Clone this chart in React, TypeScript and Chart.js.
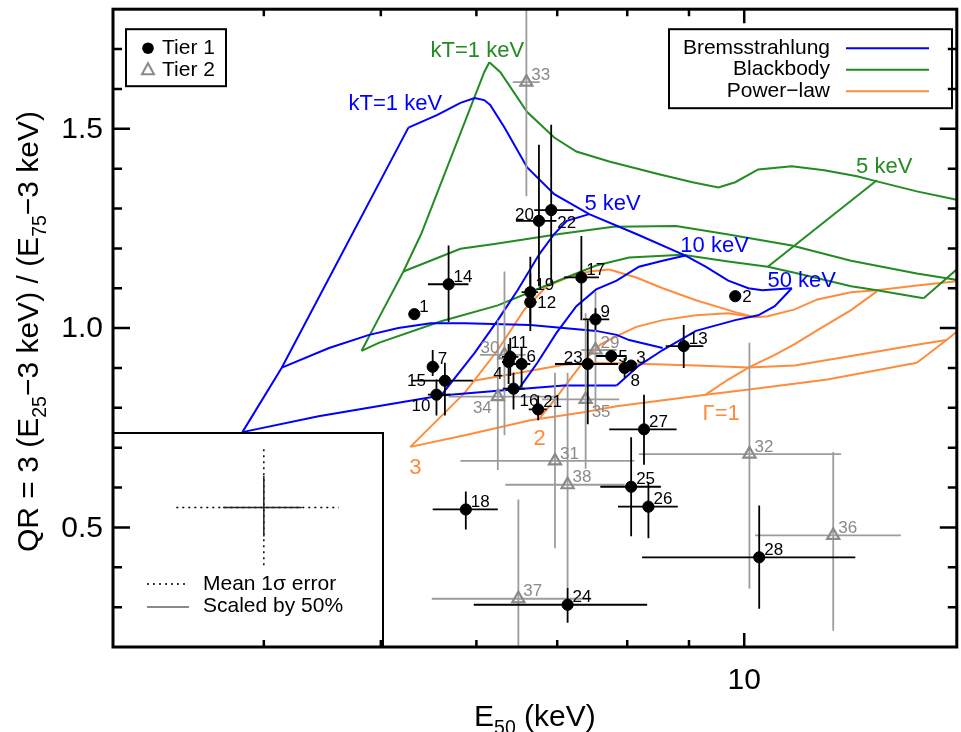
import React, { useEffect, useRef } from 'react';
import { Chart, registerables } from 'chart.js';

Chart.register(...registerables);

// ---------------- axes ----------------
const xRange = [3, 15];
const yRange = [0.2, 1.8];
const xMajorTicks = [10];
const xMinorTicks = [4, 5, 6, 7, 8, 9];
const xTickLabels = ['10'];
const yMajorTicks = [0.5, 1.0, 1.5];
const yMinorTicks = [0.3, 0.4, 0.6, 0.7, 0.8, 0.9, 1.1, 1.2, 1.3, 1.4, 1.6, 1.7];
const yTickLabels = ['0.5', '1.0', '1.5'];

// ---------------- model grids [E50, QR] ----------------
const bremNHlow = [[3.84, 0.739], [4.44, 0.779], [5.17, 0.813], [5.61, 0.831], [6.25, 0.843], [7.09, 0.856], [7.84, 0.856]];
const bremNHmid = [[4.14, 0.901], [4.53, 0.95], [4.89, 0.983], [5.17, 1.0], [5.5, 1.012], [5.87, 1.012], [6.65, 1.008], [7.54, 0.993], [7.84, 0.983], [8.03, 0.97], [8.56, 0.95]];
const bremNHhigh = [[5.27, 1.503], [5.57, 1.535], [5.82, 1.565], [5.98, 1.577], [6.09, 1.572], [6.16, 1.56], [6.33, 1.503], [6.61, 1.403], [6.96, 1.336], [7.44, 1.286], [8.14, 1.236], [8.94, 1.182], [9.29, 1.154], [9.7, 1.119], [10.08, 1.1], [10.35, 1.095], [10.95, 1.1]];
const bremKT1 = [[3.84, 0.739], [4.14, 0.901], [5.27, 1.503]];
const bremKT5 = [[5.61, 0.831], [5.98, 0.938], [6.25, 1.02], [6.49, 1.095], [6.77, 1.187], [6.96, 1.236], [7.13, 1.269], [7.44, 1.286]];
const bremKT10 = [[6.49, 0.843], [6.74, 0.913], [6.99, 0.988], [7.26, 1.055], [7.54, 1.097], [7.84, 1.119], [8.18, 1.154], [8.56, 1.169], [8.94, 1.182]];
const bremKT50 = [[7.84, 0.856], [8.18, 0.906], [8.56, 0.945], [9.12, 0.993], [9.83, 1.02], [10.27, 1.032], [10.6, 1.055], [10.95, 1.1]];

const bbKT1 = [[4.82, 0.943], [4.98, 1.025], [5.22, 1.142], [5.4, 1.236], [6.09, 1.642], [6.15, 1.667]];
const bbNHhigh = [[6.15, 1.667], [6.28, 1.642], [6.61, 1.542], [6.96, 1.478], [7.26, 1.443], [7.73, 1.418], [8.5, 1.386], [9.06, 1.366], [9.52, 1.353], [9.83, 1.366], [10.27, 1.398], [10.95, 1.406], [11.65, 1.396], [12.4, 1.381], [12.88, 1.368], [13.9, 1.343], [14.93, 1.323], [15.3, 1.316]];
const bbNHmid = [[5.22, 1.142], [5.82, 1.199], [6.21, 1.211], [7.03, 1.236], [7.79, 1.254], [8.78, 1.256], [9.65, 1.236], [10.95, 1.207], [12.26, 1.169], [13.9, 1.137], [14.93, 1.122], [15.3, 1.114]];
const bbNHlow = [[4.82, 0.943], [4.98, 0.963], [5.61, 1.017], [6.25, 1.057], [6.83, 1.105], [7.54, 1.157], [8.03, 1.177], [8.89, 1.184], [9.7, 1.167], [10.46, 1.154], [11.01, 1.139], [12.26, 1.105], [12.88, 1.095], [14.08, 1.075]];
const bbKT5 = [[10.46, 1.154], [12.88, 1.371]];
const bbKT10 = [[14.08, 1.075], [14.93, 1.142], [15.3, 1.172]];

const plNHlow = [[5.29, 0.702], [5.87, 0.731], [6.65, 0.769], [7.36, 0.789], [7.84, 0.804], [9.29, 0.833], [10.21, 0.848], [11.72, 0.871], [13.9, 0.913]];
const plNHmid = [[5.97, 0.868], [6.65, 0.893], [7.09, 0.908], [7.54, 0.913], [8.29, 0.91], [9.12, 0.906], [10.08, 0.901], [11.01, 0.906], [12.26, 0.93], [13.9, 0.958], [14.71, 0.97]];
const plNHhigh = [[7.73, 1.147], [8.14, 1.127], [8.56, 1.1], [9.12, 1.07], [9.83, 1.04], [10.21, 1.027], [10.46, 1.03], [11.01, 1.047], [11.5, 1.072], [12.26, 1.09], [12.88, 1.095], [13.9, 1.107], [14.93, 1.117], [15.3, 1.119]];
const plG3 = [[5.29, 0.702], [5.87, 0.838], [6.25, 0.945], [6.57, 1.045], [6.86, 1.105], [7.17, 1.129], [7.44, 1.142], [7.73, 1.147]];
const plG2 = [[6.77, 0.774], [6.99, 0.826], [7.19, 0.876], [7.4, 0.925], [7.61, 0.96], [7.84, 0.98], [8.14, 1.003], [8.56, 1.02], [9.12, 1.032], [9.7, 1.037], [10.21, 1.027]];
const plG1 = [[9.29, 0.833], [9.7, 0.871], [10.08, 0.901], [10.6, 0.933], [11.01, 0.96], [11.5, 0.995], [12.26, 1.045], [12.88, 1.092]];
const plG0 = [[13.9, 0.913], [14.71, 0.97], [15.3, 1.012]];

// curve annotations
const curveLabelText = ['kT=1 keV', '5 keV', '10 keV', '50 keV', 'kT=1 keV', '5 keV', 'Γ=1', '2', '3'];
const curveLabelModel = ['brem', 'brem', 'brem', 'brem', 'bb', 'bb', 'pl', 'pl', 'pl'];
const curveLabelE = [5.14, 7.78, 9.45, 11.16, 6.01, 13.06, 9.57, 6.77, 5.34];
const curveLabelQR = [1.567, 1.316, 1.211, 1.124, 1.699, 1.408, 0.789, 0.726, 0.654];

// ---------------- sources ----------------
const tier1Id = ['1', '2', '3', '4', '5', '6', '7', '8', '9', '10', '11', '12', '13', '14', '15', '16', '17', '18', '19', '20', '21', '22', '23', '24', '25', '26', '27', '28'];
const tier1E = [5.33, 9.83, 8.06, 6.38, 7.76, 6.54, 5.52, 7.96, 7.53, 5.56, 6.4, 6.65, 8.91, 5.69, 5.65, 6.44, 7.33, 5.88, 6.65, 6.76, 6.75, 6.92, 7.42, 7.14, 8.06, 8.33, 8.26, 10.29];
const tier1QR = [1.035, 1.08, 0.906, 0.915, 0.93, 0.91, 0.903, 0.9, 1.022, 0.833, 0.928, 1.065, 0.955, 1.11, 0.868, 0.848, 1.127, 0.545, 1.09, 1.269, 0.796, 1.296, 0.91, 0.306, 0.602, 0.552, 0.746, 0.425];
const tier1ELo = [5.33, 9.83, 8.0, 6.3, 7.54, 6.43, 5.47, 7.9, 7.35, 5.47, 6.3, 6.58, 8.61, 5.47, 5.3, 6.31, 7.09, 5.52, 6.54, 6.47, 6.63, 6.7, 6.97, 5.97, 7.6, 7.86, 7.73, 8.23];
const tier1EHi = [5.33, 9.83, 8.12, 6.45, 7.99, 6.65, 5.59, 8.02, 7.73, 5.71, 6.5, 6.73, 9.25, 5.91, 5.96, 6.58, 7.58, 6.25, 6.75, 6.99, 6.86, 7.22, 7.86, 8.31, 8.53, 8.81, 8.79, 12.36];
const tier1QRLo = [1.035, 1.08, 0.895, 0.86, 0.913, 0.851, 0.88, 0.876, 0.995, 0.781, 0.88, 0.993, 0.9, 1.015, 0.781, 0.796, 1.02, 0.495, 1.012, 1.105, 0.769, 1.112, 0.759, 0.261, 0.478, 0.473, 0.657, 0.296];
const tier1QRHi = [1.035, 1.08, 0.915, 0.96, 0.945, 0.95, 0.945, 0.925, 1.05, 0.871, 0.975, 1.137, 1.008, 1.207, 0.913, 0.888, 1.231, 0.59, 1.179, 1.46, 0.831, 1.51, 1.02, 0.348, 0.726, 0.614, 0.833, 0.555];
const tier1LabelPos = ['ur', 'r', 'ur', 'bl', 'r', 'ur', 'ur', 'br', 'ur', 'bl', 'u', 'r', 'ur', 'ur', 'l', 'br', 'ur', 'ur', 'ur', 'ul', 'ur', 'br', 'ul', 'ur', 'ur', 'ur', 'ur', 'ur'];

const tier2Id = ['29', '30', '31', '32', '33', '34', '35', '36', '37', '38'];
const tier2E = [7.53, 6.33, 6.97, 10.1, 6.6, 6.25, 7.39, 11.85, 6.5, 7.14];
const tier2QR = [0.945, 0.933, 0.667, 0.684, 1.617, 0.828, 0.821, 0.48, 0.321, 0.607];
const tier2ELo = [7.33, 6.04, 5.82, 8.18, 6.43, 5.69, 6.8, 10.21, 5.51, 6.34];
const tier2EHi = [7.84, 6.59, 8.11, 12.03, 6.77, 6.99, 7.88, 13.48, 7.47, 7.96];
const tier2QRLo = [0.796, 0.731, 0.448, 0.346, 1.331, 0.644, 0.647, 0.241, 0.15, 0.348];
const tier2QRHi = [1.092, 1.142, 0.888, 0.963, 1.85, 1.02, 1.037, 0.689, 0.57, 0.888];
const tier2LabelPos = ['ur', 'ul', 'ur', 'ur', 'ur', 'bl', 'br', 'ur', 'ur', 'ur'];

// mean error inset
const meanErrCenter = [4.0, 0.55];
const meanErrE = [3.385, 4.615];
const meanErrQR = [0.405, 0.697];
const scaledErrE = [3.7, 4.3];
const scaledErrQR = [0.477, 0.629];

// ---------------- styles ----------------
const FONT = '"Liberation Sans", Arial, Helvetica, sans-serif';
const BLUE = '#0000ff';
const GREEN = '#228b22';
const ORANGE = '#ff8c3c';
const GRAY = '#8a8a8a';
const GRAY_BAR = '#9c9c9c';
const modelColor: Record<string, string> = { brem: BLUE, bb: GREEN, pl: ORANGE };

const labelOffsets: Record<string, [number, number, CanvasTextAlign]> = {
  ur: [5, -8, 'left'],
  r: [7, 0, 'left'],
  u: [0, -14, 'left'],
  br: [6, 12, 'left'],
  ul: [-5, -7, 'right'],
  bl: [-6, 11, 'right'],
  l: [-19, 0, 'right'],
};

type Part = { t: string; sub?: boolean };
function richWidth(ctx: CanvasRenderingContext2D, parts: Part[], size: number) {
  let w = 0;
  for (const p of parts) {
    ctx.font = `${p.sub ? size * 0.65 : size}px ${FONT}`;
    w += ctx.measureText(p.t).width;
  }
  return w;
}
function drawRich(ctx: CanvasRenderingContext2D, parts: Part[], x: number, y: number, size: number) {
  let cx = x;
  ctx.textBaseline = 'alphabetic';
  ctx.textAlign = 'left';
  for (const p of parts) {
    ctx.font = `${p.sub ? size * 0.65 : size}px ${FONT}`;
    ctx.fillText(p.t, cx, p.sub ? y + size * 0.27 : y);
    cx += ctx.measureText(p.t).width;
  }
}

function drawErrors(chart: any, E: number[], Q: number[], ELo: number[], EHi: number[], QLo: number[], QHi: number[], color: string) {
  const { ctx, chartArea: a, scales } = chart;
  const xs = scales.x, ys = scales.y;
  ctx.save();
  ctx.beginPath();
  ctx.rect(a.left, a.top, a.right - a.left, a.bottom - a.top);
  ctx.clip();
  ctx.strokeStyle = color;
  ctx.lineWidth = 1.8;
  for (let i = 0; i < E.length; i++) {
    const px = xs.getPixelForValue(E[i]);
    const py = ys.getPixelForValue(Q[i]);
    ctx.beginPath();
    ctx.moveTo(xs.getPixelForValue(ELo[i]), py);
    ctx.lineTo(xs.getPixelForValue(EHi[i]), py);
    ctx.moveTo(px, ys.getPixelForValue(QLo[i]));
    ctx.lineTo(px, ys.getPixelForValue(QHi[i]));
    ctx.stroke();
  }
  ctx.restore();
}

function drawPointLabels(chart: any, ids: string[], E: number[], Q: number[], pos: string[], color: string) {
  const { ctx, scales } = chart;
  ctx.save();
  ctx.fillStyle = color;
  ctx.font = `17px ${FONT}`;
  ctx.textBaseline = 'middle';
  for (let i = 0; i < ids.length; i++) {
    const [dx, dy, al] = labelOffsets[pos[i]];
    ctx.textAlign = al;
    ctx.fillText(ids[i], scales.x.getPixelForValue(E[i]) + dx, scales.y.getPixelForValue(Q[i]) + dy + 1);
  }
  ctx.restore();
}

const overlay = {
  id: 'overlay',
  beforeDatasetDraw(chart: any, args: any) {
    const ds = chart.data.datasets[args.index];
    if (ds.label === 'Tier 2') drawErrors(chart, tier2E, tier2QR, tier2ELo, tier2EHi, tier2QRLo, tier2QRHi, GRAY_BAR);
    if (ds.label === 'Tier 1') drawErrors(chart, tier1E, tier1QR, tier1ELo, tier1EHi, tier1QRLo, tier1QRHi, '#000');
  },
  afterDatasetsDraw(chart: any) {
    const { ctx, chartArea: a, scales } = chart;
    const xs = scales.x, ys = scales.y;

    // point labels
    drawPointLabels(chart, tier2Id, tier2E, tier2QR, tier2LabelPos, GRAY);
    drawPointLabels(chart, tier1Id, tier1E, tier1QR, tier1LabelPos, '#000');

    // curve labels
    ctx.save();
    ctx.font = `22px ${FONT}`;
    ctx.textAlign = 'center';
    ctx.textBaseline = 'alphabetic';
    for (let i = 0; i < curveLabelText.length; i++) {
      ctx.fillStyle = modelColor[curveLabelModel[i]];
      ctx.fillText(curveLabelText[i], xs.getPixelForValue(curveLabelE[i]), ys.getPixelForValue(curveLabelQR[i]) + 8);
    }
    ctx.restore();

    // inset: mean error
    ctx.save();
    const ix0 = a.left, iy0 = a.bottom - 214, ix1 = a.left + 270;
    ctx.fillStyle = '#fff';
    ctx.fillRect(ix0, iy0, ix1 - ix0, a.bottom - iy0);
    ctx.strokeStyle = '#000';
    ctx.lineWidth = 2;
    ctx.strokeRect(ix0, iy0, ix1 - ix0, a.bottom - iy0);
    const cx = xs.getPixelForValue(meanErrCenter[0]);
    const cy = ys.getPixelForValue(meanErrCenter[1]);
    ctx.setLineDash([2, 4]);
    ctx.lineWidth = 1.5;
    ctx.beginPath();
    ctx.moveTo(xs.getPixelForValue(meanErrE[0]), cy);
    ctx.lineTo(xs.getPixelForValue(meanErrE[1]), cy);
    ctx.moveTo(cx, ys.getPixelForValue(meanErrQR[0]));
    ctx.lineTo(cx, ys.getPixelForValue(meanErrQR[1]));
    ctx.stroke();
    ctx.setLineDash([]);
    ctx.strokeStyle = '#222';
    ctx.lineWidth = 1.5;
    ctx.beginPath();
    ctx.moveTo(xs.getPixelForValue(scaledErrE[0]), cy);
    ctx.lineTo(xs.getPixelForValue(scaledErrE[1]), cy);
    ctx.moveTo(cx, ys.getPixelForValue(scaledErrQR[0]));
    ctx.lineTo(cx, ys.getPixelForValue(scaledErrQR[1]));
    ctx.stroke();
    // inset legend
    ctx.strokeStyle = '#000';
    ctx.setLineDash([2, 4]);
    ctx.beginPath();
    ctx.moveTo(ix0 + 34, iy0 + 151);
    ctx.lineTo(ix0 + 75, iy0 + 151);
    ctx.stroke();
    ctx.setLineDash([]);
    ctx.strokeStyle = GRAY;
    ctx.lineWidth = 2;
    ctx.beginPath();
    ctx.moveTo(ix0 + 34, iy0 + 174);
    ctx.lineTo(ix0 + 76, iy0 + 174);
    ctx.stroke();
    ctx.fillStyle = '#000';
    ctx.font = `21px ${FONT}`;
    ctx.textAlign = 'left';
    ctx.textBaseline = 'middle';
    ctx.fillText('Mean 1σ error', ix0 + 90, iy0 + 151);
    ctx.fillText('Scaled by 50%', ix0 + 90, iy0 + 173);
    ctx.restore();

    // Tier legend
    ctx.save();
    const tx = a.left + 13, ty = a.top + 20;
    ctx.fillStyle = '#fff';
    ctx.fillRect(tx, ty, 100, 57);
    ctx.strokeStyle = '#000';
    ctx.lineWidth = 2;
    ctx.strokeRect(tx, ty, 100, 57);
    ctx.fillStyle = '#000';
    ctx.beginPath();
    ctx.arc(tx + 22, ty + 19, 5.8, 0, Math.PI * 2);
    ctx.fill();
    ctx.strokeStyle = GRAY;
    ctx.lineWidth = 2;
    ctx.beginPath();
    ctx.moveTo(tx + 22, ty + 34);
    ctx.lineTo(tx + 28, ty + 45);
    ctx.lineTo(tx + 16, ty + 45);
    ctx.closePath();
    ctx.stroke();
    ctx.fillStyle = '#000';
    ctx.font = `21px ${FONT}`;
    ctx.textAlign = 'left';
    ctx.textBaseline = 'middle';
    ctx.fillText('Tier 1', tx + 36, ty + 19);
    ctx.fillText('Tier 2', tx + 36, ty + 41);
    ctx.restore();

    // Model legend
    ctx.save();
    const lx = a.left + 556, ly = a.top + 20;
    ctx.fillStyle = '#fff';
    ctx.fillRect(lx, ly, 283, 79);
    ctx.strokeStyle = '#000';
    ctx.lineWidth = 2;
    ctx.strokeRect(lx, ly, 283, 79);
    const names = ['Bremsstrahlung', 'Blackbody', 'Power−law'];
    const cols = [BLUE, GREEN, ORANGE];
    ctx.font = `21px ${FONT}`;
    ctx.textAlign = 'right';
    ctx.textBaseline = 'middle';
    for (let i = 0; i < 3; i++) {
      const yy = ly + 19 + i * 21.5;
      ctx.fillStyle = '#000';
      ctx.fillText(names[i], lx + 161, yy);
      ctx.strokeStyle = cols[i];
      ctx.lineWidth = 2;
      ctx.beginPath();
      ctx.moveTo(lx + 177, yy);
      ctx.lineTo(lx + 260, yy);
      ctx.stroke();
    }
    ctx.restore();

    // frame and ticks
    ctx.save();
    ctx.strokeStyle = '#000';
    ctx.lineWidth = 3;
    ctx.strokeRect(a.left, a.top, a.right - a.left, a.bottom - a.top);
    ctx.lineWidth = 2.5;
    ctx.beginPath();
    const yt = (v: number, len: number) => {
      const p = ys.getPixelForValue(v);
      ctx.moveTo(a.left, p); ctx.lineTo(a.left + len, p);
      ctx.moveTo(a.right, p); ctx.lineTo(a.right - len, p);
    };
    yMajorTicks.forEach(v => yt(v, 17));
    yMinorTicks.forEach(v => yt(v, 9));
    const xt = (v: number, len: number) => {
      const p = xs.getPixelForValue(v);
      ctx.moveTo(p, a.bottom); ctx.lineTo(p, a.bottom - len);
      ctx.moveTo(p, a.top); ctx.lineTo(p, a.top + len);
    };
    xMajorTicks.forEach(v => xt(v, 14));
    xMinorTicks.forEach(v => xt(v, 7));
    ctx.stroke();

    ctx.fillStyle = '#000';
    ctx.font = `30px ${FONT}`;
    ctx.textAlign = 'right';
    ctx.textBaseline = 'middle';
    yMajorTicks.forEach((v, i) => ctx.fillText(yTickLabels[i], a.left - 10, ys.getPixelForValue(v) + 1));
    ctx.textAlign = 'center';
    xMajorTicks.forEach((v, i) => ctx.fillText(xTickLabels[i], xs.getPixelForValue(v), 681));

    // x title
    const xParts: Part[] = [{ t: 'E' }, { t: '50', sub: true }, { t: ' (keV)' }];
    const xw = richWidth(ctx, xParts, 30);
    drawRich(ctx, xParts, (a.left + a.right) / 2 - xw / 2, 726, 30);

    // y title
    const yParts: Part[] = [{ t: 'QR = 3 (E' }, { t: '25', sub: true }, { t: '−3 keV) / (E' }, { t: '75', sub: true }, { t: '−3 keV)' }];
    ctx.translate(38, 552);
    ctx.rotate(-Math.PI / 2);
    drawRich(ctx, yParts, 0, 0, 30);
    ctx.restore();
  },
};

export default function App() {
  const ref = useRef<HTMLCanvasElement>(null);
  useEffect(() => {
    const canvas = ref.current!;
    const pts = (arr: number[][]) => arr.map(([x, y]) => ({ x, y }));
    const line = (label: string, arr: number[][], color: string) => ({
      label, data: pts(arr), showLine: true, borderColor: color, backgroundColor: color,
      borderWidth: 2, pointRadius: 0, pointHoverRadius: 0, tension: 0, fill: false, order: 10,
    });
    const datasets: any[] = [
      line('bremNHlow', bremNHlow, BLUE), line('bremNHmid', bremNHmid, BLUE), line('bremNHhigh', bremNHhigh, BLUE),
      line('bremKT1', bremKT1, BLUE), line('bremKT5', bremKT5, BLUE), line('bremKT10', bremKT10, BLUE), line('bremKT50', bremKT50, BLUE),
      line('bbKT1', bbKT1, GREEN), line('bbNHhigh', bbNHhigh, GREEN), line('bbNHmid', bbNHmid, GREEN), line('bbNHlow', bbNHlow, GREEN),
      line('bbKT5', bbKT5, GREEN), line('bbKT10', bbKT10, GREEN),
      line('plNHlow', plNHlow, ORANGE), line('plNHmid', plNHmid, ORANGE), line('plNHhigh', plNHhigh, ORANGE),
      line('plG3', plG3, ORANGE), line('plG2', plG2, ORANGE), line('plG1', plG1, ORANGE), line('plG0', plG0, ORANGE),
      {
        label: 'Tier 2', data: tier2E.map((e, i) => ({ x: e, y: tier2QR[i] })), pointStyle: 'triangle', pointRadius: 7,
        borderColor: GRAY, backgroundColor: 'rgba(255,255,255,0)', borderWidth: 2.2, showLine: false, order: 1,
      },
      {
        label: 'Tier 1', data: tier1E.map((e, i) => ({ x: e, y: tier1QR[i] })), pointStyle: 'circle', pointRadius: 5.6,
        borderColor: '#000', backgroundColor: '#000', borderWidth: 1, showLine: false, order: 0,
      },
    ];
    const chart = new Chart(canvas, {
      type: 'scatter',
      data: { datasets },
      options: {
        animation: false,
        responsive: false,
        events: [],
        layout: { padding: { left: 113, top: 4, right: 2, bottom: 85 } },
        scales: {
          x: { type: 'logarithmic', min: xRange[0], max: xRange[1], display: false },
          y: { type: 'linear', min: yRange[0], max: yRange[1], display: false },
        },
        plugins: { legend: { display: false }, tooltip: { enabled: false } },
      },
      plugins: [overlay],
    } as any);
    return () => chart.destroy();
  }, []);
  return (
    <div style={{ position: 'fixed', left: 0, top: 0, width: 961, height: 732, overflow: 'hidden', background: '#fff' }}>
      <canvas ref={ref} width={966} height={732} style={{ display: 'block' }} />
    </div>
  );
}
